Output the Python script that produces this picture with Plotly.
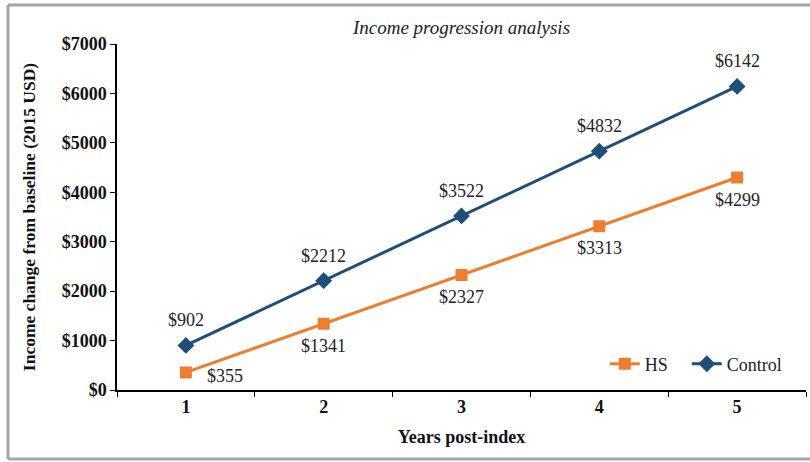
import plotly.graph_objects as go

years = ["1", "2", "3", "4", "5"]
hs_values = [355, 1341, 2327, 3313, 4299]
control_values = [902, 2212, 3522, 4832, 6142]
y_ticks = [0, 1000, 2000, 3000, 4000, 5000, 6000, 7000]
y_tick_labels = ["$" + str(v) for v in y_ticks]

FONT = "Liberation Serif"
HS_COLOR = "#ED7D31"
CTRL_COLOR = "#1F4E79"
LABEL_COLOR = "#222222"

fig = go.Figure()
fig.add_trace(go.Scatter(
    x=years, y=hs_values, name="HS", mode="lines+markers",
    line=dict(color=HS_COLOR, width=3),
    marker=dict(symbol="square", size=12, color=HS_COLOR),
    legend="legend",
))
fig.add_trace(go.Scatter(
    x=years, y=control_values, name="Control", mode="lines+markers",
    line=dict(color=CTRL_COLOR, width=3),
    marker=dict(symbol="diamond", size=13, color=CTRL_COLOR),
    legend="legend2",
))

# data labels (x given as category index)
for i, v in enumerate(control_values):
    fig.add_annotation(x=i, y=v, text="$" + str(v), showarrow=False,
                       yshift=25, font=dict(family=FONT, size=18, color=LABEL_COLOR))
for i, v in enumerate(hs_values):
    if i == 0:
        fig.add_annotation(x=i, y=v, text="$" + str(v), showarrow=False,
                           xshift=39, yshift=-4, font=dict(family=FONT, size=18, color=LABEL_COLOR))
    else:
        fig.add_annotation(x=i, y=v, text="$" + str(v), showarrow=False,
                           yshift=-22, font=dict(family=FONT, size=18, color=LABEL_COLOR))

legend_common = dict(orientation="h", y=0.075, xanchor="left", yanchor="middle",
                     bgcolor="rgba(0,0,0,0)", font=dict(family=FONT, size=18, color=LABEL_COLOR),
                     itemwidth=30)

fig.update_layout(
    width=810, height=462,
    margin=dict(l=117, r=4, t=44, b=72),
    paper_bgcolor="white", plot_bgcolor="white",
    font=dict(family=FONT, color="#111111"),
    title=dict(text="<i>Income progression analysis</i>", x=0.5, xanchor="center",
               xref="paper", y=1 - 27 / 462, yanchor="middle",
               font=dict(family=FONT, size=19, color=LABEL_COLOR)),
    showlegend=True,
    legend=dict(x=0.708, **legend_common),
    legend2=dict(x=0.827, **legend_common),
    xaxis=dict(
        type="category", showgrid=False, showline=True, linecolor="black", linewidth=1.5,
        ticks="outside", ticklen=5, tickcolor="black", tickson="boundaries",
        tickfont=dict(family=FONT, size=18, color="#111111", weight="bold"),
        title=dict(text="<b>Years post-index</b>", font=dict(family=FONT, size=18, color="#111111"), standoff=14),
        range=[-0.5, 4.5],
    ),
    yaxis=dict(
        range=[0, 7000], tickvals=y_ticks, ticktext=y_tick_labels,
        showgrid=False, showline=True, linecolor="black", linewidth=1.5,
        ticks="outside", ticklen=5, tickcolor="black", zeroline=False,
        tickfont=dict(family=FONT, size=18, color="#111111", weight="bold"),
        title=dict(text="<b>Income change from baseline (2015 USD)</b>",
                   font=dict(family=FONT, size=17.5, color="#111111"), standoff=22),
    ),
)

# gray frame: top, left and bottom edges (right edge lies off the page)
px = lambda v: (v - 117) / 689
py = lambda v: (390 - v) / 346
frame_style = dict(color="#A6A6A6", width=3)
for x0, y0, x1, y1 in [(8, 5, 812, 5), (8, 5, 8, 459), (8, 459, 812, 459)]:
    fig.add_shape(type="line", xref="paper", yref="paper",
                  x0=px(x0), y0=py(y0), x1=px(x1), y1=py(y1),
                  line=frame_style, layer="below")

fig.write_html("out.html", config={"displayModeBar": False},
               post_script="document.body.style.margin='0';document.body.style.overflow='hidden';")
